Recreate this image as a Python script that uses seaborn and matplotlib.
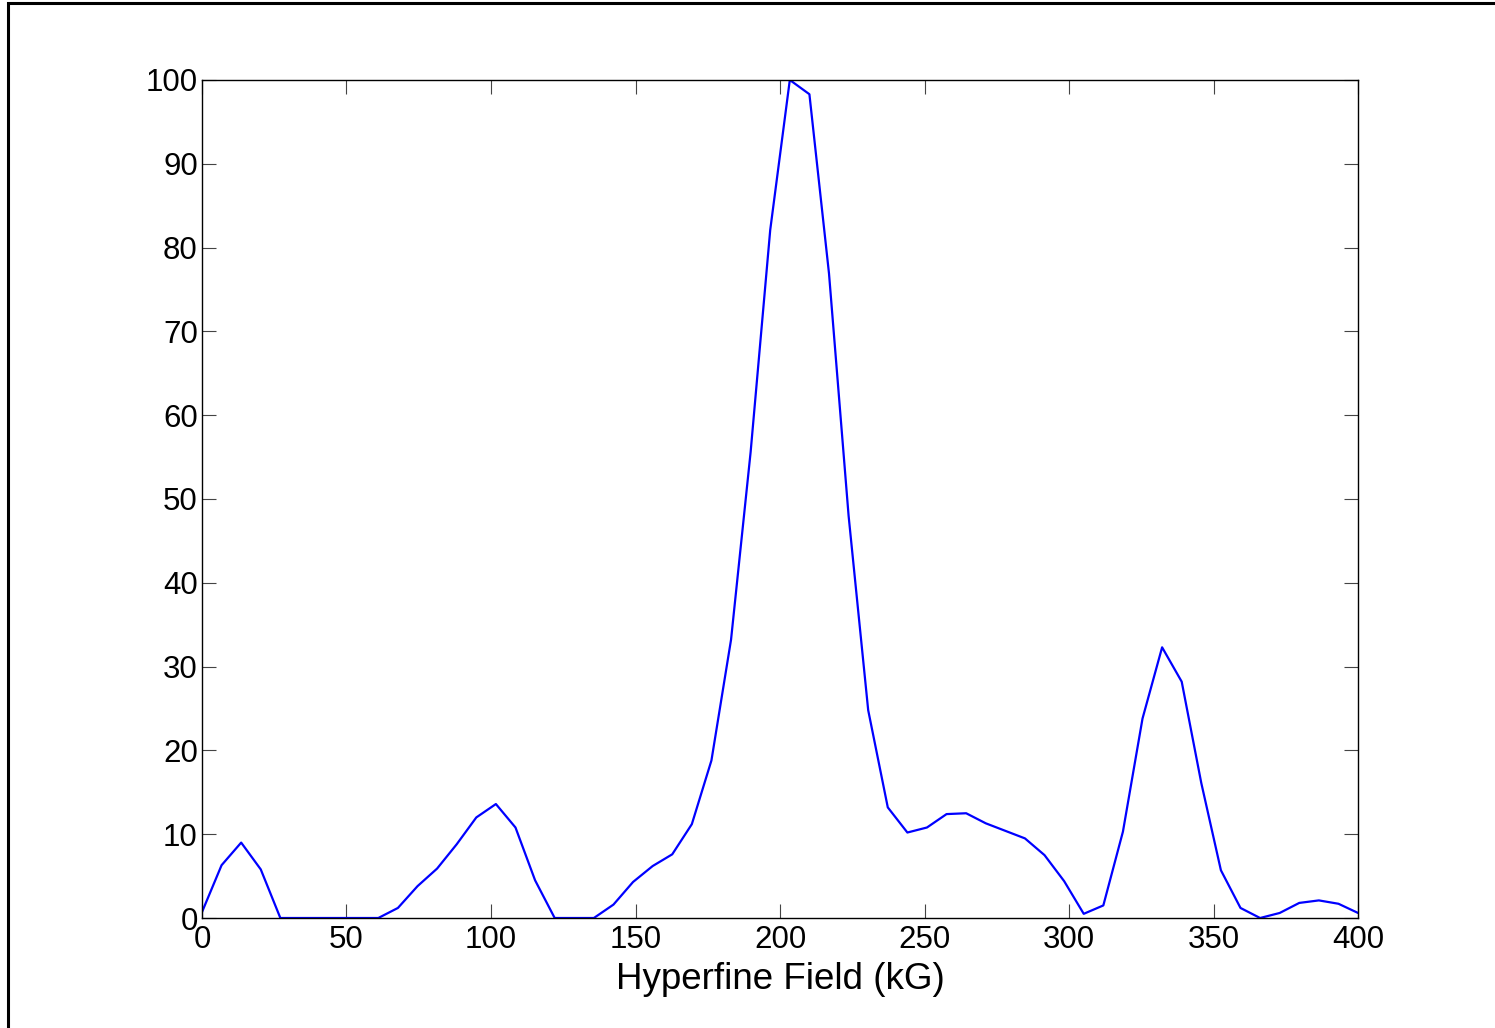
import numpy as np
import pandas as pd
import matplotlib
matplotlib.use("Agg")
import matplotlib.pyplot as plt
import seaborn as sns
from matplotlib.patches import Rectangle

# Data: hyperfine field distribution (60 points, 0..400 kG)
field_kG = np.linspace(0, 400, 60)
intensity = [
    0.7, 6.3, 9.0, 5.8, 0.0, 0.0, 0.0, 0.0, 0.0, 0.0,
    1.2, 3.8, 5.9, 8.8, 12.0, 13.6, 10.8, 4.5, 0.0, 0.0,
    0.0, 1.6, 4.3, 6.2, 7.6, 11.2, 18.8, 33.2, 55.6, 82.1,
    100.0, 98.3, 76.9, 48.0, 24.8, 13.2, 10.2, 10.8, 12.4, 12.5,
    11.3, 10.4, 9.5, 7.5, 4.4, 0.5, 1.5, 10.3, 23.8, 32.3,
    28.2, 16.1, 5.7, 1.2, 0.0, 0.6, 1.8, 2.1, 1.7, 0.6,
]
x_ticks = [0, 50, 100, 150, 200, 250, 300, 350, 400]
y_ticks = [0, 10, 20, 30, 40, 50, 60, 70, 80, 90, 100]
x_label = "Hyperfine Field (kG)"

df = pd.DataFrame({"field": field_kG, "intensity": intensity})

sns.set_theme(style="white")
plt.rcParams["font.family"] = ["Liberation Sans", "DejaVu Sans"]

fig = plt.figure(figsize=(14.95, 10.28), dpi=100)
ax = fig.add_axes([0.1351, 0.1070, 0.9084 - 0.1351, 0.9222 - 0.1070])

sns.lineplot(data=df, x="field", y="intensity", ax=ax, color="#0000ff",
             linewidth=1.6, legend=False)

ax.set_xlim(0, 400)
ax.set_ylim(0, 100)
ax.set_xticks(x_ticks)
ax.set_yticks(y_ticks)
ax.set_xticklabels([str(t) for t in x_ticks])
ax.set_yticklabels([str(t) for t in y_ticks])
ax.set_xlabel(x_label, fontsize=26.5, labelpad=5, color="black")
ax.set_ylabel("")

for s in ax.spines.values():
    s.set_visible(True)
    s.set_color("black")
    s.set_linewidth(1.0)

ax.tick_params(axis="both", which="major", direction="in", length=10, width=0.8,
               color="#444444", labelsize=22.5, labelcolor="black",
               top=True, right=True, bottom=True, left=True)
ax.tick_params(axis="x", pad=5)
ax.tick_params(axis="y", pad=3)

# Figure border (partially cropped in original)
fig.patches.append(Rectangle((7.5 / 1495, -0.05), 1.2, 1.05 - 2.5 / 1028,
                             transform=fig.transFigure, fill=False,
                             edgecolor="black", linewidth=2.2))

fig.savefig("out.png", dpi=100, facecolor="white")
